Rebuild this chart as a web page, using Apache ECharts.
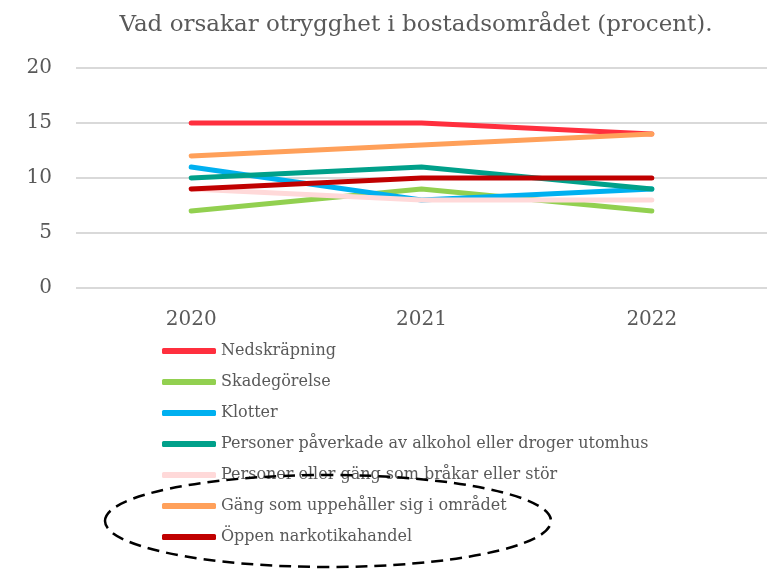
<!DOCTYPE html>
<html>
<head>
<meta charset="utf-8">
<script src="https://cdn.jsdelivr.net/npm/echarts@6/dist/echarts.min.js"></script>
<style>
  html, body { margin: 0; padding: 0; background: #fff; }
  #chart { width: 767px; height: 570px; }
</style>
</head>
<body>
<div id="chart"></div>
<script>
// kategorier och värden (procent)
var years = ['2020', '2021', '2022'];
var names = [
  'Nedskräpning',
  'Skadegörelse',
  'Klotter',
  'Personer påverkade av alkohol eller droger utomhus',
  'Personer eller gäng som bråkar eller stör',
  'Gäng som uppehåller sig i området',
  'Öppen narkotikahandel'
];
var nedskrapning = [15, 15, 14];
var skadegorelse = [7, 9, 7];
var klotter = [11, 8, 9];
var alkoholDroger = [10, 11, 9];
var brakarStor = [9, 8, 8];
var gangOmradet = [12, 13, 14];
var narkotika = [9, 10, 10];
var colors = ['#FF2F3E', '#92D050', '#00B0F0', '#00A08A', '#FFD9D9', '#FFA05A', '#C00000'];

var values = [nedskrapning, skadegorelse, klotter, alkoholDroger, brakarStor, gangOmradet, narkotika];
var font = 'DejaVu Serif';

var chart = echarts.init(document.getElementById('chart'));
var option = {
  animation: false,
  title: {
    text: 'Vad orsakar otrygghet i bostadsområdet (procent).',
    left: 411, top: 9, textAlign: 'center',
    textStyle: { fontFamily: font, fontSize: 23, fontWeight: 'normal', color: '#595959' }
  },
  grid: { left: 76, right: -14, top: 68, height: 220 },
  xAxis: {
    type: 'category',
    data: years,
    boundaryGap: true,
    axisLine: { show: false },
    axisTick: { show: false },
    axisLabel: { fontFamily: font, fontSize: 20, color: '#595959', margin: 22 }
  },
  yAxis: {
    type: 'value',
    min: 0, max: 20, interval: 5,
    axisLine: { show: false },
    axisTick: { show: false },
    axisLabel: { fontFamily: font, fontSize: 20, color: '#595959', margin: 24 },
    splitLine: { lineStyle: { color: '#D9D9D9', width: 2 } }
  },
  legend: {
    orient: 'vertical',
    left: 157, top: 337,
    icon: 'roundRect',
    itemWidth: 54, itemHeight: 6,
    itemGap: 13,
    textStyle: { fontFamily: font, fontSize: 16, color: '#595959', lineHeight: 18 },
    data: names
  },
  graphic: [{
    type: 'ellipse',
    shape: { cx: 328, cy: 521, rx: 223, ry: 46 },
    style: { fill: 'none', stroke: '#000', lineWidth: 2.5, lineDash: [12, 7] },
    z: 100
  }],
  series: names.map(function (n, i) {
    return {
      name: n,
      type: 'line',
      data: values[i],
      symbol: 'none',
      color: colors[i],
      lineStyle: { width: 5, cap: 'round', color: colors[i] }
    };
  })
};
chart.setOption(option);
</script>
</body>
</html>
